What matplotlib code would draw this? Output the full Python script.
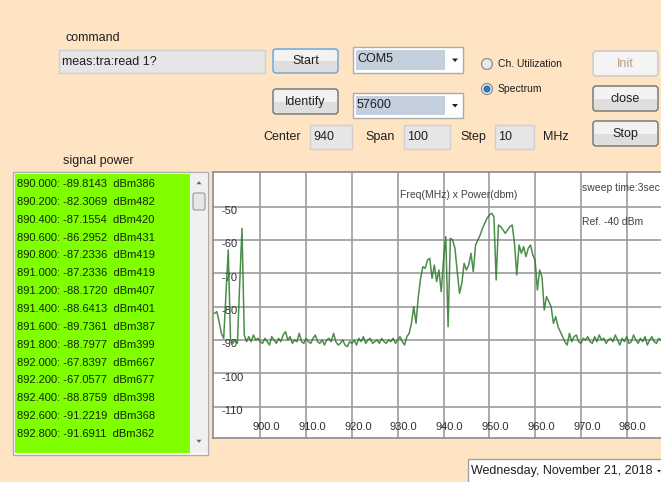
import numpy as np
import matplotlib.pyplot as plt
from matplotlib.patches import Rectangle, FancyBboxPatch, Circle, Polygon
from matplotlib.transforms import blended_transform_factory

plt.rcParams['font.family'] = ['Liberation Sans', 'DejaVu Sans']

W, H = 661, 482
BG = '#FFE4C4'
TXT = '#1e1e1e'

# spectrum sweep: 890 MHz start, 0.5 MHz per sample
freq_start = 890.0
freq_step = 0.5
power_dbm = [
    -82.0, -81.5, -84.5, -88.0, -89.5, -76.0, -63.0, -90.0, -91.0, -90.0,
    -91.0, -73.0, -56.5, -88.5, -90.5, -89.0, -90.5, -88.5, -90.0, -89.5,
    -90.5, -91.0, -89.5, -90.5, -91.5, -89.0, -90.0, -91.0, -89.5, -90.5,
    -88.5, -87.5, -90.0, -89.0, -91.0, -90.0, -90.5, -88.0, -90.5, -91.0,
    -89.5, -90.5, -91.0, -89.5, -88.5, -90.5, -91.0, -90.0, -91.5, -90.0,
    -89.5, -90.5, -88.0, -90.5, -91.5, -91.0, -90.0, -91.5, -92.0, -90.5,
    -91.0, -90.0, -91.5, -89.5, -90.5, -89.0, -91.0, -90.0, -89.5, -91.0,
    -90.5, -90.0, -91.0, -89.5, -90.5, -91.0, -90.0, -90.5, -89.5, -91.0,
    -90.0, -89.0, -90.5, -91.5, -89.0, -88.0, -85.0, -80.0, -85.0, -77.0,
    -71.5, -68.0, -68.5, -66.0, -65.5, -71.5, -67.5, -72.5, -69.0, -75.5,
    -66.0, -59.0, -86.0, -59.5, -60.0, -62.5, -69.5, -76.0, -73.0, -67.0,
    -69.0, -67.5, -64.0, -69.5, -61.5, -60.0, -58.5, -56.5, -55.0, -53.5,
    -52.5, -52.0, -53.0, -72.0, -55.5, -56.0, -57.0, -58.0, -57.0, -56.0,
    -55.5, -61.0, -70.5, -61.5, -64.0, -62.0, -65.0, -62.5, -61.5, -64.5,
    -66.0, -75.0, -69.0, -71.0, -81.0, -77.0, -78.5, -80.0, -85.0, -83.0,
    -86.0, -87.5, -89.0, -90.5, -91.5, -88.0, -90.5, -89.0, -88.5, -90.5,
    -91.0, -89.5, -90.0, -89.0, -90.5, -91.0, -89.0, -90.5, -88.5, -90.0,
    -89.5, -91.0, -90.0, -89.5, -90.5, -88.5, -90.0, -91.5, -89.5, -90.5,
    -89.0, -91.0, -90.5, -88.5, -90.0, -91.0, -89.5, -90.5, -89.0, -91.5,
    -90.0, -89.0, -90.5, -91.0, -89.5, -90.0,
]

# listbox contents
list_freq = [890.0, 890.2, 890.4, 890.6, 890.8, 891.0, 891.2, 891.4,
             891.6, 891.8, 892.0, 892.2, 892.4, 892.6, 892.8]
list_power = [-89.8143, -82.3069, -87.1554, -86.2952, -87.2336, -87.2336,
              -88.1720, -88.6413, -89.7361, -88.7977, -67.8397, -67.0577,
              -88.8759, -91.2219, -91.6911]
list_raw = [386, 482, 420, 431, 419, 419, 407, 401, 387, 399, 667, 677,
            398, 368, 362]

xticks = [900, 910, 920, 930, 940, 950, 960, 970, 980]
yticks = [-50, -60, -70, -80, -90, -100, -110]


def button(ax, x0, y0, x1, y1, label, focus=False, enabled=True):
    w, h = x1 - x0, y1 - y0
    if enabled:
        ax.add_patch(Rectangle((x0 + 1, y0 + 1), w - 2, h / 2, fc='#F2F2F2', ec='none'))
        ax.add_patch(Rectangle((x0 + 1, y0 + h / 2), w - 2, h / 2 - 1, fc='#DEDEDE', ec='none'))
        edge = '#5FA2DD' if focus else '#707070'
        color = TXT
    else:
        ax.add_patch(Rectangle((x0 + 1, y0 + 1), w - 2, h - 2, fc='#F4F4F4', ec='none'))
        edge = '#C8C8C8'
        color = '#B89C88'
    ax.add_patch(FancyBboxPatch((x0, y0), w, h, boxstyle='round,pad=0,rounding_size=3',
                                fc='none', ec=edge, lw=1.0))
    ax.text((x0 + x1) / 2, (y0 + y1) / 2 + 0.5, label, ha='center', va='center',
            fontsize=9, color=color)


def textbox(ax, x0, y0, x1, y1, text):
    ax.add_patch(Rectangle((x0, y0), x1 - x0, y1 - y0, fc='#E6E6E6', ec='#CFCFCF', lw=1.0))
    ax.text(x0 + 3, (y0 + y1) / 2 + 0.5, text, ha='left', va='center', fontsize=9, color=TXT)


def down_arrow(ax, cx, cy, size=3.0, color='#202020'):
    ax.add_patch(Polygon([(cx - size, cy - size / 2), (cx + size, cy - size / 2),
                          (cx, cy + size / 2 + 0.5)], closed=True, fc=color, ec='none'))


def up_arrow(ax, cx, cy, size=2.5, color='#606060'):
    ax.add_patch(Polygon([(cx - size, cy + size / 2), (cx + size, cy + size / 2),
                          (cx, cy - size / 2 - 0.5)], closed=True, fc=color, ec='none'))


def combobox(ax, x0, y0, x1, y1, text):
    ax.add_patch(Rectangle((x0, y0), x1 - x0, y1 - y0, fc='white', ec='#ABABAB', lw=1.0))
    ax.add_patch(Rectangle((x0 + 3, y0 + 3), 89, y1 - y0 - 6, fc='#C3CFDC', ec='none'))
    ax.text(x0 + 4, (y0 + y1) / 2 - 1, text, ha='left', va='center', fontsize=9, color=TXT)
    down_arrow(ax, x1 - 8, (y0 + y1) / 2)


def radio(ax, cx, cy, label, checked=False):
    ax.add_patch(Circle((cx, cy), 5.5, fc='#E8E8E8', ec='#8E8F8F', lw=0.9))
    if checked:
        ax.add_patch(Circle((cx, cy), 3.0, fc='#2D7BC4', ec='#1B5E9E', lw=0.6))
    ax.text(cx + 11, cy, label, ha='left', va='center', fontsize=7.5, color=TXT)


fig = plt.figure(figsize=(W / 100, H / 100), dpi=100, facecolor=BG)

# form controls drawn in pixel coordinates
ui = fig.add_axes([0, 0, 1, 1], zorder=0)
ui.set_xlim(0, W)
ui.set_ylim(H, 0)
ui.axis('off')

ui.text(65, 38, 'command', ha='left', va='center', fontsize=9, color=TXT)
textbox(ui, 59, 50, 265, 73, 'meas:tra:read 1?')
button(ui, 273, 49, 338, 73, 'Start', focus=True)
button(ui, 273, 89, 338, 114, 'Identify')
combobox(ui, 353, 47, 463, 73, 'COM5')
combobox(ui, 353, 93, 463, 118, '57600')
radio(ui, 487, 64, 'Ch. Utilization')
radio(ui, 487, 89, 'Spectrum', checked=True)
button(ui, 593, 51, 658, 76, 'Init', enabled=False)
button(ui, 593, 86, 658, 111, 'close')
button(ui, 593, 121, 658, 146, 'Stop')

ui.text(263, 137, 'Center', ha='left', va='center', fontsize=9, color=TXT)
textbox(ui, 310, 125, 352, 149, '940')
ui.text(365, 137, 'Span', ha='left', va='center', fontsize=9, color=TXT)
textbox(ui, 404, 125, 450, 149, '100')
ui.text(460, 137, 'Step', ha='left', va='center', fontsize=9, color=TXT)
textbox(ui, 495, 125, 534, 149, '10')
ui.text(543, 137, 'MHz', ha='left', va='center', fontsize=9, color=TXT)

ui.text(63, 161, 'signal power', ha='left', va='center', fontsize=9, color=TXT)

# listbox with scrollbar
ui.add_patch(Rectangle((13, 172), 195, 283, fc='white', ec='#ABADB3', lw=1.0))
ui.add_patch(Rectangle((15, 174), 175, 279, fc='#7FFF00', ec='none'))
ui.add_patch(Rectangle((191, 174), 16, 279, fc='#F0F0F0', ec='none'))
ui.add_patch(FancyBboxPatch((193, 193), 12, 17, boxstyle='round,pad=0,rounding_size=2',
                            fc='#E6E6E6', ec='#979797', lw=0.8))
up_arrow(ui, 199, 183)
down_arrow(ui, 199, 441, size=2.5, color='#606060')
for i, (f, p, r) in enumerate(zip(list_freq, list_power, list_raw)):
    ui.text(17, 184 + i * 17.86, f'{f:.3f}: {p:.4f}  dBm{r}', ha='left', va='center',
            fontsize=8, color='#142800')

# date picker
ui.add_patch(Rectangle((468, 459), 200, 30, fc='white', ec='#A0A0A0', lw=1.0))
ui.text(471, 471, 'Wednesday, November 21, 2018', ha='left', va='center', fontsize=9,
        color=TXT)
down_arrow(ui, 659, 471, size=2.0)

# spectrum chart
ax = fig.add_axes([213 / W, (H - 438) / H, (W - 213) / W, (438 - 172) / H], zorder=2)
ax.set_facecolor('white')
ax.set_xlim(889.67, 987.49)
ax.set_ylim(-119.4, -39.6)
ax.set_xticks(xticks)
ax.set_yticks(yticks)
ax.grid(True, color='#9C9C9C', lw=1.2)
ax.tick_params(length=0, labelbottom=False, labelleft=False)
for side in ['left', 'top', 'bottom']:
    ax.spines[side].set_color('#8A8A8A')
    ax.spines[side].set_linewidth(1.2)
ax.spines['right'].set_visible(False)

bx = blended_transform_factory(ax.transData, ax.transAxes)
for f in xticks:
    ax.text(f + 1.3, 0.041, f'{f:.1f}', transform=bx, ha='center', va='center',
            fontsize=8, color='#303030', zorder=2)
by = blended_transform_factory(ax.transAxes, ax.transData)
for v in yticks:
    ax.text(0.018, v - 1.3, str(v), transform=by, ha='left', va='center',
            fontsize=8, color='#303030', zorder=2)

freqs = freq_start + freq_step * np.arange(len(power_dbm))
ax.plot(freqs, power_dbm, color='#2B7A2B', lw=1.1, alpha=0.85, zorder=3)

ax.text(0.549, 0.9135, 'Freq(MHz) x Power(dbm)', transform=ax.transAxes, ha='center',
        va='center', fontsize=7.5, color='#404040')
ax.text(0.823, 0.9387, 'sweep time:3sec', transform=ax.transAxes, ha='left',
        va='center', fontsize=7.5, color='#404040')
ax.text(0.823, 0.813, 'Ref. -40 dBm', transform=ax.transAxes, ha='left',
        va='center', fontsize=7.5, color='#404040')

fig.savefig('out.png', dpi=100, facecolor=BG)
